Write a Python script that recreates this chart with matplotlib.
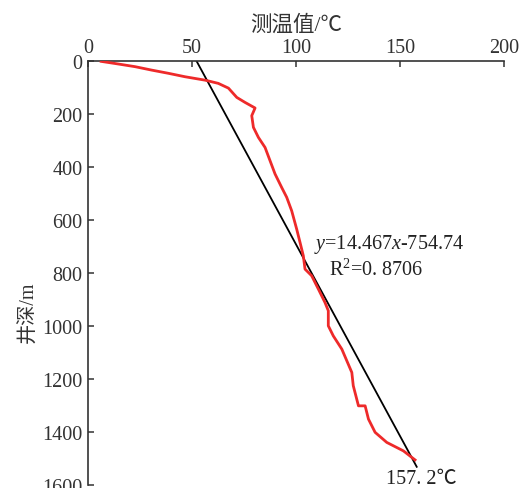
import numpy as np
import matplotlib as mpl
mpl.use("Agg")
import matplotlib.pyplot as plt

plt.rcParams['font.family'] = ['Liberation Serif', 'Noto Sans CJK SC', 'DejaVu Sans']
plt.rcParams['mathtext.fontset'] = 'custom'
plt.rcParams['mathtext.it'] = 'Liberation Serif:italic'
plt.rcParams['mathtext.rm'] = 'Liberation Serif'

temp = [6.3, 14.6, 22.6, 30.6, 38.6, 46.6, 56.3, 62.6, 67.5, 71.5, 75.5, 80.3,
        78.7, 79.5, 81.9, 85.1, 87.5, 89.9, 93.1, 95.5, 97.9, 100.3, 101.9,
        103.5, 104.3, 107.5, 110.7, 113.9, 115.5, 115.5, 117.9, 122.0, 124.4,
        126.8, 127.5, 130.0, 133.2, 134.8, 138.0, 143.6, 151.6, 157.2]
depth = [1, 11, 21, 34, 46, 59, 72, 84, 102, 137, 156, 177,
         206, 250, 288, 326, 376, 426, 477, 514, 565, 634, 684,
         735, 785, 810, 860, 911, 942, 999, 1037, 1087, 1131,
         1175, 1225, 1301, 1301, 1351, 1401, 1439, 1471, 1505]

# linear fit y = 14.467x - 754.74
slope = 14.467
intercept = -754.74
fit_x = [-intercept / slope, 158.0]

xticks = [0, 50, 100, 150, 200]
yticks = [0, 200, 400, 600, 800, 1000, 1200, 1400, 1600]

fig = plt.figure(figsize=(5.24, 4.89), dpi=100)
ax = fig.add_axes([0.168, 0.006, 0.794, 0.867])

fit_y = [slope * v + intercept for v in fit_x]
ax.plot(fit_x, fit_y, color='black', linewidth=1.3, zorder=2)
ax.plot(temp, depth, color='#ee2a2a', linewidth=2.0, zorder=3,
        solid_joinstyle='round')

ax.set_xlim(0, 200)
ax.set_ylim(1600, 0)
ax.xaxis.tick_top()
ax.xaxis.set_label_position('top')
ax.set_xticks(xticks)
ax.set_yticks(yticks)
ax.tick_params(direction='in', length=4, width=1.1, colors='#333333',
               labelsize=14.5, pad=4)
ax.tick_params(axis='x', pad=3)

for s in ['right', 'bottom']:
    ax.spines[s].set_visible(False)
for s in ['left', 'top']:
    ax.spines[s].set_linewidth(1.2)
    ax.spines[s].set_color('#333333')

ax.set_xlabel('测温值/℃', fontsize=15.5, color='#333333', labelpad=6)
ax.set_ylabel('井深/m', fontsize=14.5, color='#333333', labelpad=4)
ax.yaxis.set_label_coords(-0.12, 0.41)

ax.text(108.8, 690, r'$y$=14.467$x$-754.74', fontsize=14.5, color='#222222',
        ha='left', va='center')
ax.text(115.8, 785, 'R$^2$=0. 8706', fontsize=14.5, color='#222222',
        ha='left', va='center')
ax.text(143, 1575, '157. 2℃', fontsize=14.5, color='#222222',
        ha='left', va='center')

fig.savefig('out.png', dpi=100)
